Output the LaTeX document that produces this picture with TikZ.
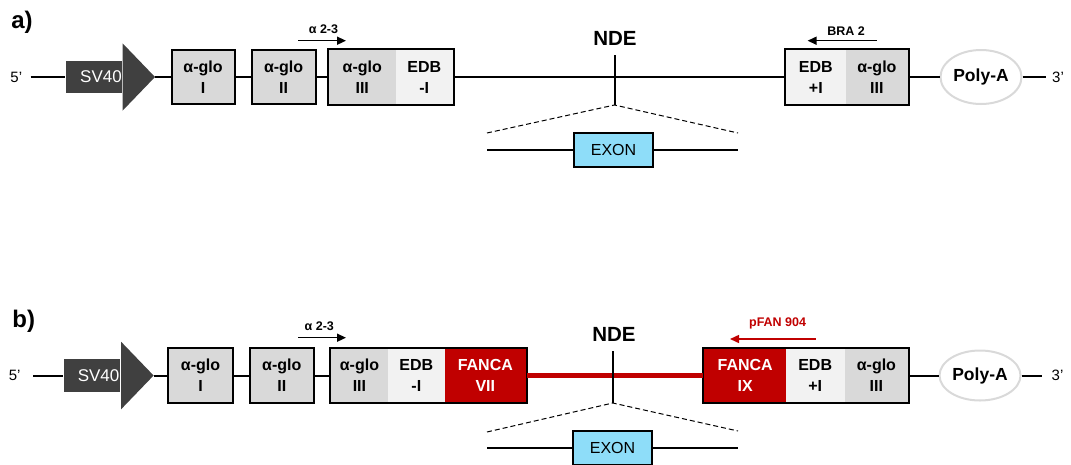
\documentclass[tikz,border=0pt]{standalone}
\usepackage{fontspec}
\setmainfont{Liberation Sans}
\usepackage{xcolor}
\usetikzlibrary{arrows.meta, shapes.geometric, calc}

\definecolor{promgray}{HTML}{404040}
\definecolor{glogray}{HTML}{D9D9D9}
\definecolor{edbgray}{HTML}{F2F2F2}
\definecolor{fancared}{HTML}{C00000}
\definecolor{exonblue}{HTML}{8EDDF9}

\begin{document}
\begin{tikzpicture}[x=1pt, y=-1pt, line width=2pt, >={Triangle[length=9pt, width=8pt]},
  every node/.style={inner sep=0pt, align=center, font=\fontsize{16}{21}\selectfont\bfseries},
  glo/.style={fill=glogray, minimum height=53.6pt},
  edb/.style={fill=edbgray, minimum height=53.6pt},
  fanca/.style={fill=fancared, text=white, minimum height=53.6pt},
  globox/.style={draw, fill=glogray, minimum height=54.5pt},
  frame/.style={draw, line width=2pt},
  shaft/.style={fill=promgray, anchor=west, minimum width=56pt, minimum height=32.5pt},
  promtext/.style={text=white, font=\fontsize{17}{20}\selectfont},
  polya/.style={ellipse, draw=glogray, font=\fontsize{17.5}{20}\selectfont\bfseries},
  exon/.style={draw, fill=exonblue, minimum width=79pt, minimum height=34pt, font=\fontsize{16}{20}\selectfont},
  primer/.style={->, line width=1.5pt},
  primertext/.style={font=\fontsize{12.5}{14}\selectfont\bfseries},
  strand/.style={font=\fontsize{15}{18}\selectfont},
  panel/.style={font=\fontsize{24}{26}\selectfont\bfseries},
  site/.style={font=\fontsize{20.5}{22}\selectfont\bfseries},
  zoomline/.style={line width=1pt, dash pattern=on 5pt off 3pt},
  fusion/.style={fancared, line width=4.5pt}]

  \clip (0,0) rectangle (1071,464);

  % a) reporter with the NDE in the intron
  \node[panel] (taga) at (22,22) {a)};
  \node[strand] (p5a) at (16.3,77) {5’};
  \node[shaft] (sva) at (64.5,77) {};
  \coordinate (svtipa) at ($(sva.east)+(32.5,0)$);
  \fill[promgray] ($(sva.north east)+(0,-16.5)$) -- (svtipa) -- ($(sva.south east)+(0,16.5)$) -- cycle;
  \node[promtext] (svta) at (101,77) {SV40};
  \node[globox, minimum width=63pt] (g1a) at (203,77) {α-glo\\I};
  \node[globox, minimum width=64pt] (g2a) at (283.6,77) {α-glo\\II};
  \node[glo, minimum width=66.5pt] (g3a) at (362.25,77) {α-glo\\III};
  \node[edb, minimum width=57.5pt] (edbma) at (424.25,77) {EDB\\-I};
  \draw[frame] (g3a.north west) rectangle (edbma.south east);
  \node[edb, minimum width=59.3pt] (edbpa) at (815.85,77) {EDB\\+I};
  \node[glo, minimum width=62.8pt] (g3ra) at (876.9,77) {α-glo\\III};
  \draw[frame] (edbpa.north west) rectangle (g3ra.south east);
  \node[polya, minimum width=81pt, minimum height=54pt] (polyaa) at (981,77) {Poly-A};
  \node[strand] (p3a) at (1058,77) {3’};

  \draw[shorten <=7.5pt] (p5a.east) -- (sva.west);
  \draw (svtipa) -- (g1a);
  \draw (g1a) -- (g2a);
  \draw (g2a) -- (g3a);
  \draw (edbma) -- (edbpa);
  \draw (g3ra) -- (polyaa);
  \draw[shorten >=5pt] (polyaa) -- (p3a.west);

  \node[site] (ndea) at (615,38) {NDE};
  \coordinate (ndetopa) at (614.5,55);
  \coordinate (ndebota) at (614.5,105);
  \draw (ndetopa) -- (ndebota);
  \coordinate (dla) at (487,133);
  \coordinate (dra) at (738,133);
  \draw[zoomline] (dla) -- (ndebota) -- (dra);
  \node[exon] (exona) at (613.5,150) {EXON};
  \coordinate (xla) at (487,150);
  \coordinate (xra) at (738,150);
  \draw (xla) -- (exona) -- (xra);

  \node[primertext] (a23la) at (323.5,29.5) {α 2-3};
  \coordinate (a23sa) at (298,40.7);
  \coordinate (a23ea) at (346,40.7);
  \draw[primer] (a23sa) -- (a23ea);
  \node[primertext] (bra2la) at (846,31) {BRA 2};
  \coordinate (bra2sa) at (876.6,40.7);
  \coordinate (bra2ea) at (807.6,40.7);
  \draw[primer] (bra2sa) -- (bra2ea);

  % b) FANCA exons VII and IX around the NDE
  \node[panel] (tagb) at (23.8,321) {b)};
  \node[strand] (p5b) at (14.6,375.5) {5’};
  \node[shaft] (svb) at (63.1,375.5) {};
  \coordinate (svtipb) at ($(svb.east)+(32.5,0)$);
  \fill[promgray] ($(svb.north east)+(0,-16.5)$) -- (svtipb) -- ($(svb.south east)+(0,16.5)$) -- cycle;
  \node[promtext] (svtb) at (98.6,375.5) {SV40};
  \node[globox, minimum width=64.6pt] (g1b) at (200.5,375.5) {α-glo\\I};
  \node[globox, minimum width=63.5pt] (g2b) at (281.75,375.5) {α-glo\\II};
  \node[glo, minimum width=56.9pt] (g3b) at (359.45,375.5) {α-glo\\III};
  \node[edb, minimum width=56.9pt] (edbmb) at (416.35,375.5) {EDB\\-I};
  \node[fanca, minimum width=81.1pt] (f7b) at (485.35,375.5) {FANCA\\VII};
  \draw[frame] (g3b.north west) rectangle (f7b.south east);
  \node[fanca, minimum width=81.5pt] (f9b) at (745.15,375.5) {FANCA\\IX};
  \node[edb, minimum width=58.6pt] (edbpb) at (815.2,375.5) {EDB\\+I};
  \node[glo, minimum width=63.8pt] (g3rb) at (876.4,375.5) {α-glo\\III};
  \draw[frame] (f9b.north west) rectangle (g3rb.south east);
  \node[polya, minimum width=81pt, minimum height=50pt] (polyab) at (980,375.5) {Poly-A};
  \node[strand] (p3b) at (1057.5,375.5) {3’};

  \draw[shorten <=12pt] (p5b.east) -- (svb.west);
  \draw (svtipb) -- (g1b);
  \draw (g1b) -- (g2b);
  \draw (g2b) -- (g3b);
  \draw[fusion] (f7b) -- (f9b);
  \draw (g3rb) -- (polyab);
  \draw[shorten >=9pt] (polyab) -- (p3b.west);

  \node[site] (ndeb) at (614,334.5) {NDE};
  \coordinate (ndetopb) at (612.8,351);
  \coordinate (ndebotb) at (612.8,403);
  \draw (ndetopb) -- (ndebotb);
  \coordinate (dlb) at (487,432);
  \coordinate (drb) at (738,431);
  \draw[zoomline] (dlb) -- (ndebotb) -- (drb);
  \node[exon] (exonb) at (612.5,448) {EXON};
  \coordinate (xlb) at (487,448);
  \coordinate (xrb) at (738,448);
  \draw (xlb) -- (exonb) -- (xrb);

  \node[primertext] (a23lb) at (319.3,326) {α 2-3};
  \coordinate (a23sb) at (298,337.7);
  \coordinate (a23eb) at (346,337.7);
  \draw[primer] (a23sb) -- (a23eb);
  \node[primertext, fancared] (pfanlb) at (777.6,323.5) {pFAN 904};
  \coordinate (pfansb) at (815.5,339);
  \coordinate (pfaneb) at (730,339);
  \draw[primer, fancared] (pfansb) -- (pfaneb);
\end{tikzpicture}
\end{document}
